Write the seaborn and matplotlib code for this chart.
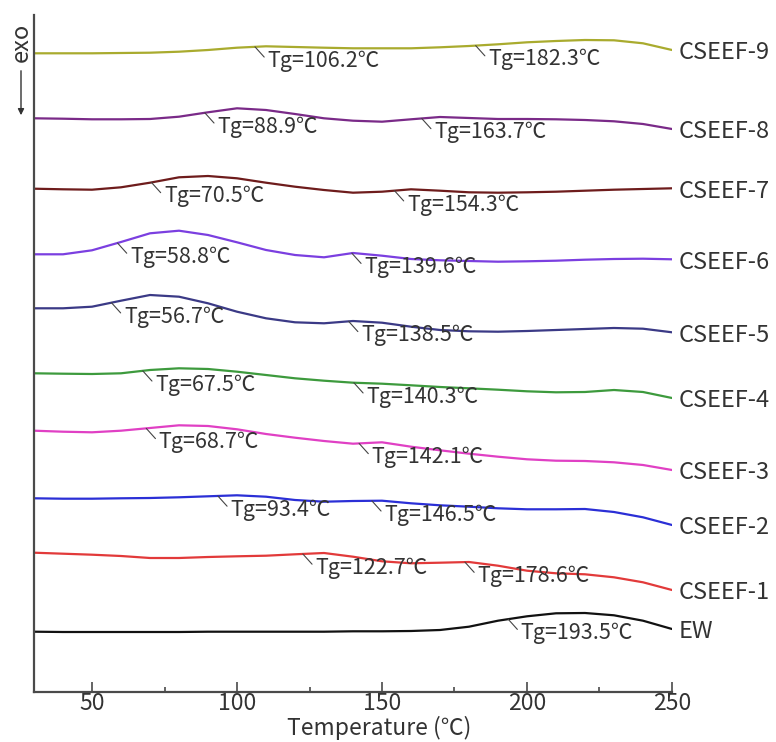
import numpy as np
import pandas as pd
import matplotlib
matplotlib.use("Agg")
import matplotlib.pyplot as plt
import seaborn as sns

# ---------------- data ----------------
temperature = [30, 40, 50, 60, 70, 80, 90, 100, 110, 120, 130, 140, 150,
               160, 170, 180, 190, 200, 210, 220, 230, 240, 250]

samples = ["CSEEF-9", "CSEEF-8", "CSEEF-7", "CSEEF-6", "CSEEF-5",
           "CSEEF-4", "CSEEF-3", "CSEEF-2", "CSEEF-1", "EW"]

cseef9 = [638.7, 638.7, 638.7, 639.0, 639.3, 640.3, 642.0, 644.3, 645.7, 645.0, 644.3, 643.7,
          643.7, 643.7, 644.7, 646.0, 647.7, 649.7, 651.0, 652.0, 651.7, 648.7, 642.0]
cseef8 = [573.7, 573.3, 572.7, 572.7, 573.0, 575.3, 579.7, 583.7, 582.0, 578.0, 573.7, 571.3,
          570.3, 572.7, 575.0, 574.0, 573.0, 573.0, 572.7, 572.0, 570.7, 568.0, 563.0]
cseef7 = [503.3, 502.7, 502.3, 504.7, 509.3, 514.7, 516.0, 513.7, 509.3, 505.3, 502.0, 499.3,
          500.3, 502.7, 501.3, 499.7, 499.3, 499.7, 500.3, 501.3, 502.3, 503.0, 503.7]
cseef6 = [437.7, 437.7, 441.7, 450.0, 458.7, 461.3, 457.0, 449.7, 442.0, 437.0, 434.7, 439.0,
          436.3, 433.0, 431.7, 431.0, 430.3, 430.7, 431.3, 432.3, 433.0, 433.3, 432.7]
cseef5 = [383.7, 383.7, 385.3, 391.3, 397.0, 395.3, 388.7, 380.3, 373.7, 369.7, 368.7, 371.0,
          369.3, 365.3, 362.0, 360.7, 360.3, 361.0, 362.0, 363.0, 364.0, 363.3, 359.7]
cseef4 = [318.7, 318.3, 318.0, 318.7, 322.0, 323.7, 323.0, 320.3, 317.0, 313.7, 311.3, 309.3,
          308.3, 306.7, 305.0, 303.7, 302.3, 300.7, 299.7, 300.0, 302.0, 300.0, 294.0]
cseef3 = [261.3, 260.3, 259.7, 261.3, 264.0, 266.7, 266.0, 262.7, 258.0, 254.3, 251.0, 248.3,
          249.7, 245.3, 241.7, 238.3, 235.3, 232.7, 231.3, 231.0, 229.7, 227.0, 222.0]
cseef2 = [193.7, 193.3, 193.3, 193.7, 194.0, 194.7, 195.7, 196.7, 195.3, 192.0, 190.3, 191.0,
          191.3, 188.7, 186.7, 185.3, 183.7, 182.7, 182.7, 183.0, 180.0, 174.7, 167.0]
cseef1 = [139.3, 138.3, 137.3, 136.0, 134.0, 134.0, 135.0, 135.7, 136.3, 137.7, 139.0, 135.3,
          130.7, 128.7, 129.3, 130.0, 126.3, 121.3, 118.7, 117.7, 114.7, 109.7, 102.0]
ew = [60.3, 60.0, 60.0, 60.0, 60.0, 60.0, 60.3, 60.3, 60.3, 60.3, 60.3, 60.7,
      60.7, 61.0, 62.0, 65.3, 71.3, 75.7, 78.7, 79.0, 76.7, 71.3, 63.0]

tg_values = [[106.2, 182.3], [88.9, 163.7], [70.5, 154.3], [58.8, 139.6], [56.7, 138.5],
             [67.5, 140.3], [68.7, 142.1], [93.4, 146.5], [122.7, 178.6], [193.5]]

x_ticks = [50, 100, 150, 200, 250]
x_label = "Temperature (℃)"

colors = ["#a9ab2e", "#7a2a88", "#6e1c1c", "#7b3fe0", "#3b3a86",
          "#3d9a3d", "#e040c4", "#2b2fd6", "#e23a3a", "#111111"]

series = [cseef9, cseef8, cseef7, cseef6, cseef5, cseef4, cseef3, cseef2, cseef1, ew]

# ---------------- style ----------------
sns.set_theme(style="white")
plt.rcParams["font.family"] = ["Noto Sans CJK SC", "DejaVu Sans"]
text_color = "#333333"

frames = []
for name, vals in zip(samples, series):
    frames.append(pd.DataFrame({"T": temperature, "v": vals, "sample": name}))
df = pd.concat(frames, ignore_index=True)

fig = plt.figure(figsize=(7.76, 7.42), dpi=100)
ax = fig.add_axes([34 / 776, 50 / 742, 638 / 776, 677 / 742])

sns.lineplot(data=df, x="T", y="v", hue="sample", palette=dict(zip(samples, colors)),
             legend=False, lw=1.6, ax=ax, sort=False)

ax.set_xlim(30, 250)
ax.set_ylim(0, 677)

# spines
for s in ["top", "right"]:
    ax.spines[s].set_visible(False)
for s in ["left", "bottom"]:
    ax.spines[s].set_color("#4a4a4a")
    ax.spines[s].set_linewidth(1.6)

ax.set_yticks([])
ax.set_xticks(x_ticks)
ax.set_xticks([75, 125, 175, 225], minor=True)
ax.tick_params(axis="x", which="major", direction="in", length=7, width=1.2,
               color="#4a4a4a", labelsize=16.5, labelcolor=text_color, pad=0, bottom=True)
ax.tick_params(axis="x", which="minor", direction="in", length=3.5, width=1.2,
               color="#4a4a4a", bottom=True)
ax.set_xlabel(x_label, fontsize=16.5, color=text_color)
ax.xaxis.set_label_coords(0.541, -0.0535)
ax.xaxis.label.set_va("center")
ax.set_ylabel("")

# sample labels at curve ends
for name, vals in zip(samples, series):
    ax.annotate(name, xy=(temperature[-1], vals[-1]), xytext=(5, -2),
                textcoords="offset points", ha="left", va="center",
                fontsize=17, color=text_color, annotation_clip=False)

# Tg annotations
for vals, tgs in zip(series, tg_values):
    for tg in tgs:
        yv = np.interp(tg, temperature, vals)
        ax.annotate(f"Tg={tg}℃", xy=(tg, yv), xytext=(9, -10),
                    textcoords="offset points", ha="left", va="center",
                    fontsize=15.5, color=text_color,
                    arrowprops=dict(arrowstyle="-", color="#444444", lw=0.8,
                                    relpos=(0, 0.5), shrinkA=0, shrinkB=0))

# exo arrow
fig.text(21 / 776, 1 - 42 / 742, "exo", rotation=90, ha="center", va="center",
         fontsize=17, color=text_color)
fig.add_artist(matplotlib.patches.FancyArrowPatch(
    (21 / 776, 1 - 68 / 742), (21 / 776, 1 - 118 / 742), transform=fig.transFigure,
    arrowstyle="-|>", mutation_scale=9, color="#333333", lw=1.0))

fig.savefig("out.png", dpi=100, facecolor="white")
